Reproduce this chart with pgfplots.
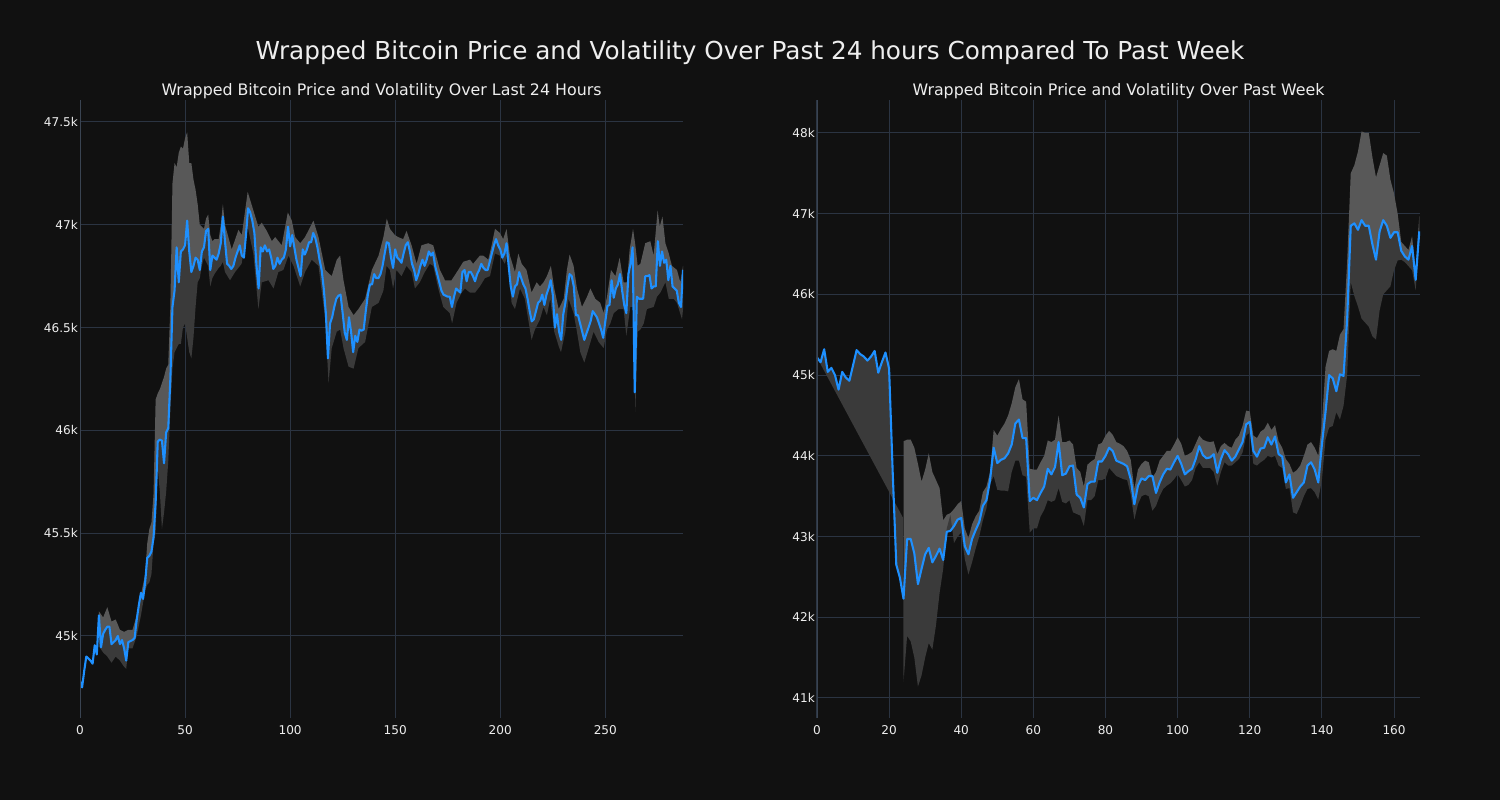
\documentclass[border=0pt]{standalone}
\usepackage{fontspec}
\setmainfont{DejaVu Sans}
\usepackage{pgfplots}
\pgfplotsset{compat=1.18}
\usepackage{pgfplotstable}
\usepgfplotslibrary{fillbetween}
\definecolor{bg}{HTML}{111111}
\definecolor{gridc}{HTML}{2B3442}
\definecolor{spinec}{HTML}{3A4452}
\definecolor{linec}{HTML}{1E90FF}
\definecolor{bandhi}{HTML}{585858}
\definecolor{bandlo}{HTML}{3A3A3A}
\definecolor{txt}{HTML}{EEEEEE}
\pagecolor{bg}

% ---------- Left panel: last 24 hours (price in thousands USD) ----------
\pgfplotstableread{
x y
0 44.78
1 44.75
2 44.83
3 44.90
4 44.89
5 44.88
6 44.865
7 44.955
8 44.91
9 45.10
10 44.945
11 45.01
12 45.03
13 45.045
14 45.045
15 44.96
16 44.97
17 44.98
18 45.00
19 44.96
20 44.98
21 44.94
22 44.88
23 44.97
24 44.975
25 44.98
26 44.99
27 45.08
28 45.15
29 45.21
30 45.18
31 45.26
32 45.38
33 45.39
34 45.41
35 45.48
36 45.65
37 45.946
38 45.955
39 45.95
40 45.84
41 45.99
42 46.01
43 46.25
44 46.60
45 46.68
46 46.89
47 46.72
48 46.87
49 46.88
50 46.90
51 47.02
52 46.87
53 46.77
54 46.80
55 46.84
56 46.83
57 46.78
58 46.87
59 46.89
60 46.97
61 46.98
62 46.78
63 46.85
64 46.84
65 46.83
66 46.86
67 46.91
68 47.04
69 46.92
70 46.81
71 46.80
72 46.785
73 46.80
74 46.84
75 46.87
76 46.90
77 46.85
78 46.84
79 46.95
80 47.08
81 47.06
82 47.02
83 46.96
84 46.80
85 46.69
86 46.89
87 46.87
88 46.90
89 46.87
90 46.88
91 46.84
92 46.785
93 46.80
94 46.84
95 46.81
96 46.83
97 46.84
98 46.88
99 46.99
100 46.895
101 46.95
102 46.89
103 46.83
104 46.79
105 46.75
106 46.88
107 46.855
108 46.88
109 46.915
110 46.915
111 46.96
112 46.935
113 46.89
114 46.83
115 46.78
116 46.69
117 46.57
118 46.35
119 46.52
120 46.55
121 46.60
122 46.64
123 46.655
124 46.66
125 46.57
126 46.475
127 46.44
128 46.55
129 46.48
130 46.38
131 46.46
132 46.43
133 46.49
134 46.485
135 46.49
136 46.58
137 46.66
138 46.71
139 46.71
140 46.76
141 46.74
142 46.74
143 46.76
144 46.80
145 46.86
146 46.915
147 46.91
148 46.84
149 46.79
150 46.88
151 46.84
152 46.83
153 46.815
154 46.86
155 46.90
156 46.915
157 46.87
158 46.81
159 46.78
160 46.73
161 46.76
162 46.80
163 46.83
164 46.80
165 46.83
166 46.87
167 46.85
168 46.865
169 46.80
170 46.76
171 46.72
172 46.68
173 46.66
174 46.655
175 46.65
176 46.65
177 46.60
178 46.65
179 46.69
180 46.68
181 46.67
182 46.77
183 46.78
184 46.725
185 46.77
186 46.77
187 46.75
188 46.725
189 46.76
190 46.78
191 46.81
192 46.79
193 46.78
194 46.78
195 46.82
196 46.86
197 46.90
198 46.93
199 46.90
200 46.88
201 46.84
202 46.86
203 46.91
204 46.80
205 46.70
206 46.65
207 46.70
208 46.71
209 46.77
210 46.74
211 46.71
212 46.69
213 46.64
214 46.58
215 46.53
216 46.54
217 46.58
218 46.62
219 46.63
220 46.66
221 46.61
222 46.66
223 46.69
224 46.73
225 46.66
226 46.50
227 46.565
228 46.48
229 46.44
230 46.565
231 46.62
232 46.70
233 46.76
234 46.75
235 46.70
236 46.56
237 46.56
238 46.52
239 46.48
240 46.44
241 46.47
242 46.50
243 46.53
244 46.58
245 46.565
246 46.55
247 46.52
248 46.49
249 46.45
250 46.53
251 46.605
252 46.61
253 46.73
254 46.645
255 46.69
256 46.71
257 46.76
258 46.68
259 46.61
260 46.57
261 46.76
262 46.81
263 46.89
264 46.185
265 46.65
266 46.64
267 46.64
268 46.64
269 46.75
270 46.75
271 46.755
272 46.69
273 46.70
274 46.70
275 46.92
276 46.80
277 46.87
278 46.815
279 46.83
280 46.73
281 46.80
282 46.70
283 46.69
284 46.68
285 46.62
286 46.60
287 46.78
}\Lp

\pgfplotstableread{
x y
9 45.12
11 45.09
13 45.14
15 45.07
17 45.08
19 45.03
21 45.02
23 45.03
25 45.03
27 45.10
29 45.20
31 45.30
32 45.45
33 45.52
34 45.55
35 45.69
36 46.15
37 46.18
38 46.20
40 46.26
41 46.30
42 46.32
43 46.60
44 47.20
45 47.30
46 47.28
47 47.35
48 47.38
49 47.37
50 47.42
51 47.45
52 47.30
53 47.30
54 47.22
55 47.17
56 47.10
57 47.00
58 46.99
59 46.98
60 47.03
61 47.05
62 46.95
63 46.92
64 46.93
66 46.93
67 47.00
68 47.10
69 47.00
72.2 46.88
75.4 46.975
77 46.95
79.8 47.16
82.5 47.07
84.9 46.99
86.5 47.01
88.9 46.97
91.3 46.92
92.9 46.94
96 46.90
98.9 47.06
100.8 47.02
102.4 46.94
104.8 46.91
107.1 46.94
111.1 47.02
113.5 46.94
116.7 46.78
119.8 46.75
122.2 46.83
123.8 46.85
125.4 46.73
127.8 46.60
130.2 46.56
132.5 46.59
135.7 46.64
138.9 46.78
142.1 46.85
144.4 46.94
146 47.03
147.5 46.98
149.8 46.95
151.4 46.94
153.8 46.93
155.4 46.97
157.8 46.90
160.2 46.81
162.5 46.90
165.7 46.91
168.1 46.90
171.3 46.78
173.7 46.73
176.8 46.73
180 46.78
182.4 46.82
185.6 46.83
187.1 46.81
190.3 46.85
191.9 46.85
194.3 46.83
195.9 46.90
197.5 46.98
199.8 46.96
201.4 46.93
203 46.98
204.6 46.85
207 46.77
208.6 46.86
210.2 46.81
212.5 46.78
214.9 46.67
217.3 46.72
218.9 46.70
220.6 46.72
222.2 46.75
224.1 46.80
225.7 46.69
227.8 46.59
230.2 46.64
231.7 46.78
233 46.855
234.9 46.80
236.5 46.69
238.9 46.60
241.3 46.65
242.9 46.69
245.2 46.64
247.6 46.62
249.2 46.57
250.8 46.65
252.7 46.78
254.8 46.75
256.8 46.84
258.7 46.72
260.3 46.72
261.6 46.88
263.2 46.98
264.3 46.90
265.4 46.80
266.7 46.81
269 46.91
271.4 46.92
273 46.85
274.9 47.07
275.9 46.99
277.2 47.04
278.6 46.91
280.2 46.86
281.7 46.80
284.1 46.78
285.7 46.72
287 46.80
}\Lu

\pgfplotstableread{
x y
9 44.95
11 44.92
13 44.90
15 44.87
17 44.90
19 44.88
21 44.85
22 44.84
23 44.94
25 44.94
27 45.00
29 45.10
31 45.22
32 45.25
33 45.26
34 45.30
35 45.45
36 45.50
37 45.82
38 45.70
39 45.52
40 45.60
41 45.70
42 45.85
43 46.10
44 46.30
45 46.38
46 46.40
47 46.42
48 46.42
49 46.50
50 46.52
51 46.45
52 46.38
53 46.35
54 46.45
55 46.60
56 46.72
57 46.74
58 46.80
59 46.84
60 46.82
61 46.80
62 46.70
63 46.74
64 46.76
66 46.79
67 46.80
68 46.82
69 46.77
71.4 46.73
73.8 46.77
76.9 46.81
79.8 46.99
82.5 46.86
84.9 46.59
86.5 46.72
89.7 46.73
92.1 46.69
94.4 46.77
96.8 46.78
99.2 46.85
101.6 46.80
104.8 46.70
107.1 46.77
110.3 46.83
113.5 46.80
116.7 46.54
118.3 46.23
119.8 46.40
122.2 46.48
123.8 46.49
125.4 46.40
127.8 46.31
130.2 46.30
132.5 46.40
135.7 46.43
138.9 46.60
142.1 46.62
144.4 46.68
145.9 46.80
147.5 46.78
149 46.69
150.6 46.78
153 46.75
155.4 46.80
157.8 46.77
159.4 46.69
161.7 46.72
164.1 46.77
166.5 46.81
168.1 46.80
170.5 46.69
172.9 46.60
176 46.57
177.1 46.52
179.2 46.62
181.6 46.67
183.2 46.69
185.6 46.67
188 46.67
190.3 46.70
192.7 46.74
195.1 46.75
197.5 46.86
199.8 46.85
202.2 46.81
203.3 46.85
205.4 46.62
207 46.59
209.4 46.69
211.7 46.64
214.9 46.44
216.5 46.49
218.9 46.54
220.6 46.60
222.2 46.56
223.8 46.64
225.7 46.48
227.8 46.41
228.9 46.38
231 46.48
232.5 46.64
234.9 46.57
236.5 46.48
238.1 46.38
240 46.33
242.1 46.40
244.4 46.48
246.8 46.43
249.2 46.40
250.8 46.49
252.4 46.52
254 46.57
256.3 46.59
258.7 46.59
260 46.46
261.9 46.60
263.2 46.60
264.3 46.09
265.4 46.48
266.7 46.49
268.3 46.52
269.8 46.59
273 46.60
274.6 46.65
276.2 46.67
278.6 46.72
280.2 46.64
282.5 46.64
284.1 46.62
286.5 46.54
287 46.59
}\Ll

% ---------- Right panel: past week ----------
\pgfplotstableread{
x y
0 45.22
1 45.16
2 45.32
3 45.04
4 45.09
5 45.00
6 44.82
7 45.04
8 44.97
9 44.93
10 45.12
11 45.31
12 45.26
13 45.23
14 45.18
15 45.23
16 45.30
17 45.03
18 45.16
19 45.28
20 45.08
21 43.80
22 42.65
23 42.49
24 42.23
25 42.97
26 42.97
27 42.79
28 42.41
29 42.60
30 42.78
31 42.86
32 42.68
33 42.76
34 42.85
35 42.71
36 43.06
37 43.07
38 43.13
39 43.21
40 43.23
41 42.88
42 42.78
43 42.97
44 43.08
45 43.18
46 43.38
47 43.45
48 43.70
49 44.10
50 43.91
51 43.95
52 43.97
53 44.03
54 44.14
55 44.40
56 44.45
57 44.22
58 44.22
59 43.44
60 43.48
61 43.45
62 43.54
63 43.62
64 43.84
65 43.77
66 43.86
67 44.17
68 43.76
69 43.78
70 43.87
71 43.88
72 43.52
73 43.48
74 43.36
75 43.65
76 43.68
77 43.68
78 43.93
79 43.93
80 44.00
81 44.10
82 44.06
83 43.94
84 43.92
85 43.90
86 43.87
87 43.71
88 43.40
89 43.63
90 43.72
91 43.70
92 43.75
93 43.75
94 43.54
95 43.67
96 43.77
97 43.84
98 43.83
99 43.92
100 44.00
101 43.90
102 43.77
103 43.81
104 43.84
105 43.96
106 44.12
107 44.01
108 43.97
109 43.98
110 44.02
111 43.79
112 43.96
113 44.07
114 44.02
115 43.94
116 43.99
117 44.08
118 44.17
119 44.39
120 44.42
121 44.06
122 43.99
123 44.09
124 44.10
125 44.23
126 44.14
127 44.24
128 44.02
129 43.99
130 43.67
131 43.77
132 43.48
133 43.55
134 43.62
135 43.67
136 43.88
137 43.92
138 43.83
139 43.67
140 44.14
141 44.54
142 45.00
143 44.96
144 44.80
145 45.01
146 44.99
147 45.69
148 46.85
149 46.88
150 46.80
151 46.92
152 46.85
153 46.85
154 46.62
155 46.43
156 46.78
157 46.92
158 46.85
159 46.70
160 46.77
161 46.77
162 46.54
163 46.47
164 46.43
165 46.60
166 46.18
167 46.78
}\Rp

\pgfplotstableread{
x y
24 44.18
25 44.20
26 44.20
27 44.10
28 43.90
29 43.68
30 43.83
31 44.03
32 43.80
33 43.70
34 43.60
35 43.20
36 43.27
37 43.29
38 43.34
39 43.40
40 43.44
41 43.10
42 42.98
43 43.15
44 43.25
45 43.32
46 43.55
47 43.62
48 43.80
49 44.32
50 44.25
51 44.33
52 44.40
53 44.50
54 44.65
55 44.85
56 44.95
57 44.70
58 44.67
59 43.84
60 43.83
61 43.83
62 43.92
63 44.00
64 44.19
65 44.17
66 44.20
67 44.50
68 44.17
69 44.17
70 44.19
71 44.14
72 43.85
73 43.80
74 43.62
75 43.89
76 43.93
77 43.96
78 44.14
79 44.16
80 44.25
81 44.31
82 44.26
83 44.17
84 44.15
85 44.12
86 44.06
87 43.95
88 43.59
89 43.83
90 43.90
91 43.94
92 43.92
93 43.73
94 43.80
95 43.94
96 44.00
97 44.06
98 44.06
99 44.14
100 44.23
101 44.15
102 44.00
103 44.02
104 44.05
105 44.15
106 44.25
107 44.20
108 44.18
109 44.17
110 44.18
111 44.02
112 44.12
113 44.16
114 44.12
115 44.10
116 44.20
117 44.25
118 44.37
119 44.56
120 44.55
121 44.25
122 44.22
123 44.30
124 44.33
125 44.41
126 44.32
127 44.38
128 44.18
129 44.10
130 43.96
131 43.90
132 43.79
133 43.82
134 43.88
135 44.00
136 44.14
137 44.17
138 44.10
139 44.00
140 44.40
141 45.10
142 45.30
143 45.32
144 45.30
145 45.50
146 45.57
147 46.40
148 47.50
149 47.60
150 47.77
151 48.02
152 48.00
153 48.00
154 47.70
155 47.45
156 47.60
157 47.75
158 47.72
159 47.42
160 47.25
161 47.00
162 46.65
163 46.60
164 46.55
165 46.72
166 46.30
167 46.97
}\Ru

\pgfplotstableread{
x y
0 45.22
23.9 43.23
24 41.20
25 41.77
26 41.70
27 41.50
28 41.14
29 41.28
30 41.50
31 41.68
32 41.60
33 41.90
34 42.30
35 42.60
36 43.10
37 43.27
38 42.92
39 43.00
40 43.05
41 42.72
42 42.53
43 42.68
44 42.85
45 43.00
46 43.20
47 43.35
48 43.65
49 43.75
50 43.58
51 43.57
52 43.57
53 43.56
54 43.80
55 43.94
56 43.94
57 43.76
58 43.74
59 43.05
60 43.10
61 43.10
62 43.25
63 43.33
64 43.45
65 43.43
66 43.45
67 43.60
68 43.43
69 43.41
70 43.45
71 43.30
72 43.28
73 43.26
74 43.13
75 43.45
76 43.45
77 43.50
78 43.70
79 43.70
80 43.72
81 43.85
82 43.80
83 43.75
84 43.73
85 43.71
86 43.70
87 43.52
88 43.21
89 43.40
90 43.50
91 43.52
92 43.50
93 43.32
94 43.38
95 43.50
96 43.59
97 43.63
98 43.66
99 43.71
100 43.77
101 43.70
102 43.62
103 43.64
104 43.70
105 43.85
106 43.92
107 43.85
108 43.85
109 43.85
110 43.80
111 43.63
112 43.80
113 43.92
114 43.88
115 43.88
116 43.92
117 43.96
118 44.04
119 44.25
120 44.29
121 43.90
122 43.88
123 43.92
124 43.95
125 44.00
126 43.98
127 44.00
128 43.88
129 43.85
130 43.59
131 43.60
132 43.30
133 43.28
134 43.38
135 43.50
136 43.59
137 43.60
138 43.55
139 43.46
140 43.70
141 44.20
142 44.35
143 44.37
144 44.54
145 44.45
146 44.62
147 45.00
148 46.15
149 45.98
150 45.85
151 45.70
152 45.65
153 45.60
154 45.48
155 45.44
156 45.80
157 46.00
158 46.05
159 46.10
160 46.30
161 46.42
162 46.43
163 46.40
164 46.35
165 46.30
166 46.05
167 46.70
}\Rl

\pgfplotsset{
  pstyle/.style={
    scale only axis, width=434.2pt, height=445pt,
    anchor=south west,
    axis line style={draw=none},
    grid=major, major grid style={draw=gridc, line width=0.7pt},
    major tick length=0pt,
    tick style={draw=none},
    tick label style={font=\fontsize{8.7}{10}\selectfont, text=txt},
    xticklabel style={yshift=-2pt},
    yticklabel style={xshift=2pt},
    /pgf/number format/assume math mode=true,
    title style={font=\fontsize{11.4}{13}\selectfont, text=txt, at={(0.5,1)}, anchor=base, yshift=-2.9pt},
  }
}

\begin{document}
\begin{tikzpicture}
\path (0,0) rectangle (1080pt,576pt);
\node[anchor=base, text=txt, font=\fontsize{17.8}{21}\selectfont] at (540pt,533.5pt) {Wrapped Bitcoin Price and Volatility Over Past 24 hours Compared To Past Week};

\begin{axis}[pstyle, at={(57.6pt,59.04pt)},
  xmin=0, xmax=287, ymin=44.601, ymax=47.607,
  xtick={0,50,100,150,200,250},
  ytick={45,45.5,46,46.5,47,47.5},
  yticklabels={45k,45.5k,46k,46.5k,47k,47.5k},
  title={Wrapped Bitcoin Price and Volatility Over Last 24 Hours}]
\addplot[draw=none, name path=pL, forget plot] table {\Lp};
\addplot[draw=none, name path=uL, forget plot] table {\Lu};
\addplot[draw=none, name path=lL, forget plot] table {\Ll};
\addplot[fill=bandhi, draw=none, forget plot] fill between[of=uL and pL, soft clip={domain=9:287}];
\addplot[fill=bandlo, draw=none, forget plot] fill between[of=pL and lL, soft clip={domain=9:287}];
\addplot[linec, line width=1.5pt, line join=round, no marks] table {\Lp};
\draw[spinec, line width=0.8pt] (rel axis cs:0,0) -- (rel axis cs:0,1);
\end{axis}

\begin{axis}[pstyle, at={(588.2pt,59.04pt)},
  xmin=0, xmax=167.2, ymin=40.752, ymax=48.409,
  xtick={0,20,40,60,80,100,120,140,160},
  ytick={41,42,43,44,45,46,47,48},
  yticklabels={41k,42k,43k,44k,45k,46k,47k,48k},
  title={Wrapped Bitcoin Price and Volatility Over Past Week}]
\addplot[draw=none, name path=pR, forget plot] table {\Rp};
\addplot[draw=none, name path=uR, forget plot] table {\Ru};
\addplot[draw=none, name path=lR, forget plot] table {\Rl};
\addplot[fill=bandhi, draw=none, forget plot] fill between[of=uR and pR, soft clip={domain=24:167}];
\addplot[fill=bandlo, draw=none, forget plot] fill between[of=pR and lR];
\addplot[linec, line width=1.5pt, line join=round, no marks] table {\Rp};
\draw[spinec, line width=0.8pt] (rel axis cs:0,0) -- (rel axis cs:0,1);
\end{axis}
\end{tikzpicture}
\end{document}
